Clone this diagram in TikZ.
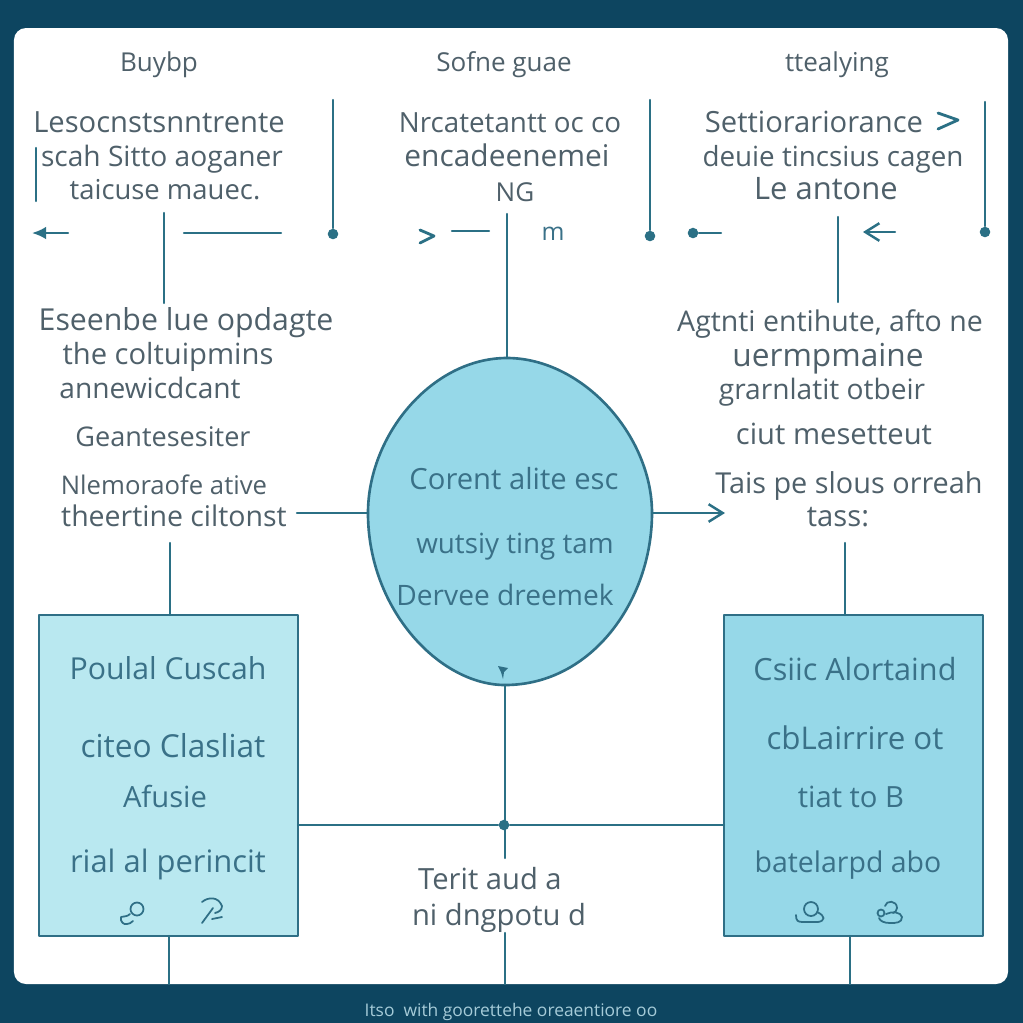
\documentclass[tikz,border=0pt]{standalone}
\usepackage{fontspec}
\setmainfont{Open Sans}
\usepackage{tikz}
\usetikzlibrary{arrows.meta}
\definecolor{navy}{HTML}{0D4560}
\definecolor{teal}{HTML}{2B7085}
\definecolor{edge}{HTML}{2F6F86}
\definecolor{lightfill}{HTML}{B9E8F0}
\definecolor{midfill}{HTML}{96D8E8}
\definecolor{graytext}{HTML}{4F606A}
\definecolor{boxtext}{HTML}{3A7188}
\definecolor{foot}{HTML}{A5CBD8}
\tikzset{
  wire/.style={draw=teal,line width=0.7pt},
  shade box/.style={draw=edge,line width=0.75pt},
  fs/.style={font=\fontsize{#1}{10}\selectfont},
  lab/.style={inner sep=0pt,anchor=base,text=graytext,fs=8.3},
  inlab/.style={inner sep=0pt,anchor=base,text=boxtext,fs=8.3},
  headlab/.style={lab,fs=7.4},
  dot/.style={circle,fill=teal,inner sep=0pt,minimum size=3pt},
  chev/.style={wire,line width=0.8pt},
}
\begin{document}
\begin{tikzpicture}[line cap=round,line join=round,x=0.01cm,y=-0.01cm]
  \useasboundingbox (0,0) rectangle (1023,1023);
  \fill [navy] (0,0) rectangle (1023,1023);
  \fill [white,rounded corners=3.4pt] (14,28) rectangle (1008,984);
  % top row
  \node [headlab] (headA) at (159,71) {Buybp};
  \node [headlab] (headB) at (504,71) {Sofne guae};
  \node [headlab] (headC) at (837,71) {ttealying};
  \node [lab] (a1) at (159,132) {Lesocnstsnntrente};
  \node [lab,fs=8] (a2) at (162,166) {scah Sitto aoganer};
  \node [lab,fs=7.8] (a3) at (165,199) {taicuse mauec.};
  \node [lab,fs=7.9] (b1) at (510,132) {Nrcatetantt oc co};
  \node [lab,fs=8.5] (b2) at (507,166) {encadeenemei};
  \node [headlab] (b3) at (515,201) {NG};
  \node [lab] (c1) at (814,132) {Settiorariorance};
  \node [lab,fs=7.9] (c2) at (833,166) {deuie tincsius cagen};
  \node [lab,fs=8.8] (c3) at (826,199) {Le antone};
  \node [inlab,fs=7] (mm) at (553,240) {m};
  % middle left and right
  \node [lab,fs=8.6] (d1) at (186,330) {Eseenbe lue opdagte};
  \node [lab] (d2) at (168,364) {the coltuipmins};
  \node [lab,fs=8] (d3) at (150,398) {annewicdcant};
  \node [lab,fs=7.7] (d4) at (163,446) {Geantesesiter};
  \node [lab,fs=7.3] (d5) at (164,494) {Nlemoraofe ative};
  \node [lab,fs=8.1] (d6) at (174,526) {theertine ciltonst};
  \node [lab,fs=8.1] (e1) at (830,331) {Agtnti entihute, afto ne};
  \node [lab,fs=9] (e2) at (828,366) {uermpmaine};
  \node [lab,fs=8] (e3) at (822,399) {grarnlatit otbeir};
  \node [lab] (e4) at (834,444) {ciut mesetteut};
  \node [lab,fs=8.2] (e5) at (849,493) {Tais pe slous orreah};
  \node [lab] (e6) at (838,526) {tass:};
  % egg
  \coordinate (eggT) at (507,358);
  \coordinate (eggL) at (368,513);
  \coordinate (eggR) at (652,513);
  \coordinate (eggB) at (505,685);
  \draw [shade box,fill=midfill] (eggL) .. controls (368,435) and (432,358) .. (eggT)
    .. controls (582,358) and (652,435) .. (eggR)
    .. controls (652,600) and (592,685) .. (eggB)
    .. controls (440,685) and (368,610) .. (eggL);
  \node [inlab] (f1) at (514,489) {Corent alite esc};
  \node [inlab,fs=7.9] (f2) at (515,553) {wutsiy ting tam};
  \node [inlab,fs=8] (f3) at (505,605) {Dervee dreemek};
  % boxes
  \draw [shade box,fill=lightfill] (39,615) rectangle (298,936);
  \draw [shade box,fill=midfill] (724,615) rectangle (983,936);
  \coordinate (boxLt) at (170,615);
  \coordinate (boxLb) at (169,936);
  \coordinate (boxLr) at (298,825);
  \coordinate (boxRt) at (845,615);
  \coordinate (boxRb) at (850,936);
  \coordinate (boxRl) at (724,825);
  \node [inlab,fs=8.6] (g1) at (168,679) {Poulal Cuscah};
  \node [inlab,fs=9] (g2) at (173,757) {citeo Clasliat};
  \node [inlab] (g3) at (165,807) {Afusie};
  \node [inlab,fs=8.8] (g4) at (168,872) {rial al perincit};
  \node [inlab,fs=8.7] (h1) at (855,680) {Csiic Alortaind};
  \node [inlab,fs=8.9] (h2) at (855,749) {cbLairrire ot};
  \node [inlab] (h3) at (851,807) {tiat to B};
  \node [inlab,fs=8.1] (h4) at (848,872) {batelarpd abo};
  \node [lab] (k1) at (490,889) {Terit aud a};
  \node [lab] (k2) at (499,925) {ni dngpotu d};
  \node [inner sep=0pt,anchor=base,text=foot,fs=4.95] (foot) at (511,1016) {Itso\ \ with goorettehe oreaentiore oo};
  % connectors
  \coordinate (t1) at (333,100);
  \coordinate (t2) at (650,100);
  \coordinate (t3) at (985,102);
  \node [dot] (p1) at (333,234) {};
  \node [dot] (p2) at (650,236) {};
  \node [dot] (p3) at (985,232) {};
  \node [dot] (p4) at (693,233) {};
  \node [dot] (hub) at (504,825) {};
  \draw [wire] (t1) -- (p1);
  \draw [wire] (t2) -- (p2);
  \draw [wire] (t3) -- (p3);
  \draw [wire] (36,148) -- (36,201);
  \draw [wire,-{Latex[length=4pt,width=3.6pt]}] (68,233) -- (32,233);
  \draw [wire] (184,233) -- (281,233);
  \draw [wire] (164,213) -- (164,303);
  \draw [chev] (420,230) -- (434,236) -- (420,243);
  \draw [wire] (452,231) -- (489,231);
  \draw [wire] (507,214) -- (eggT);
  \draw [wire] (p4) -- (721,233);
  \draw [wire] (838,217) -- (838,302);
  \draw [wire,-{Straight Barb[length=4pt,width=5pt]}] (895,232) -- (863,232);
  \draw [chev] (938,113) -- (958,120) -- (938,129);
  \draw [wire] (297,513) -- (eggL);
  \draw [wire,-{Straight Barb[length=4pt,width=5pt]}] (eggR) -- (725,513);
  \draw [wire] (170,543) -- (boxLt);
  \draw [wire] (845,543) -- (boxRt);
  \draw [wire] (eggB) -- (505,858);
  \draw [wire] (boxLr) -- (hub) -- (boxRl);
  \draw [wire] (505,933) -- (505,984);
  \draw [wire] (boxLb) -- (169,984);
  \draw [wire] (boxRb) -- (850,984);
  % little marks
  \fill [edge] (498,666) -- (508,668) -- (504,672) -- (503,679) -- (501,672) -- cycle;
  \begin{scope}[line width=0.5pt]
    \draw [edge] (137,909) circle (6.5);
    \draw [edge] (130,914) .. controls (127,917) and (124,916) .. (121,917) .. controls (120,922) and (124,925) .. (127,924) .. controls (129,924) and (131,923) .. (133,921);
    \draw [edge] (202,902) .. controls (208,897) and (218,896) .. (222,906) .. controls (222,910) and (219,912) .. (215,913);
    \draw [edge] (213,908) -- (202,923) (212,919) -- (222,917);
    \draw [edge] (811,909) circle (7);
    \draw [edge] (796,915) .. controls (796,921) and (798,922) .. (803,922) -- (818,922) .. controls (825,921) and (826,916) .. (817,912);
    \draw [edge] (885,906) .. controls (886,900) and (897,900) .. (897,908) .. controls (897,911) and (895,912) .. (893,913);
    \draw [edge] (886,914) .. controls (892,911) and (901,912) .. (902,917) .. controls (902,923) and (896,923) .. (890,923) .. controls (884,923) and (880,921) .. (879,918);
    \draw [edge] (881,913) circle (3.5);
  \end{scope}
\end{tikzpicture}
\end{document}
